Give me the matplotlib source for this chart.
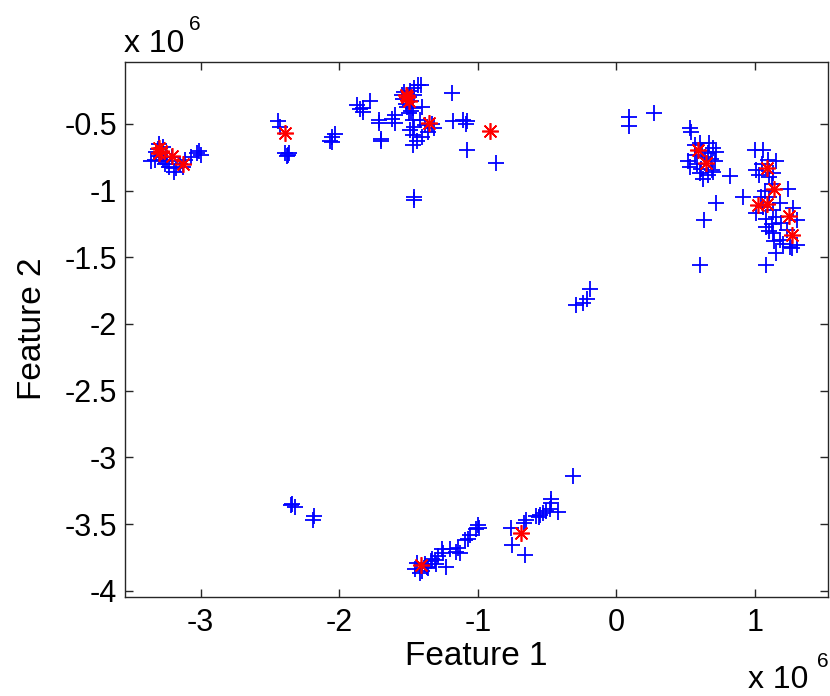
import matplotlib
matplotlib.use("Agg")
import matplotlib.pyplot as plt

# values in units of 1e6 (as the axes show them)
blue_x = [
    # left cluster
    -3.32, -3.27, -3.30, -3.33, -3.26, -3.23, -3.18, -3.19, -3.13, -3.11, -3.07, -3.03,
    -3.01, -3.00, -3.21, -3.25, -3.29, -3.31, -3.28, -3.36, -3.24, -3.15, -3.30, -3.27,
    # around -2.4 / -2
    -2.44, -2.43, -2.37, -2.39, -2.38, -2.36, -2.05, -2.03, -2.07, -2.05,
    -1.87, -1.83, -1.78, -1.83, -1.85,
    -1.71, -1.71, -1.70, -1.70, -1.60, -1.60, -1.62,
    # blob near -1.5
    -1.55, -1.53, -1.50, -1.48, -1.52, -1.47, -1.50, -1.46, -1.54, -1.49, -1.51, -1.48,
    -1.43, -1.41, -1.46, -1.40, -1.42, -1.38, -1.49, -1.47, -1.44, -1.47, -1.40, -1.36,
    -1.32, -1.47, -1.46, -1.33,
    -1.19, -1.18, -1.11, -1.08, -1.085, -1.08, -0.87, -1.46, -1.46,
    # top right
    0.09, 0.09, 0.27, 0.53, 0.54,
    0.60, 0.67, 0.70, 0.52, 0.53, 0.60, 0.66, 0.69, 0.71, 0.72, 0.565, 0.625,
    0.64, 0.62, 0.68, 0.58, 0.82, 0.72, 0.63, 0.60, 0.57, 0.66, 0.70, 0.61,
    1.00, 1.06, 1.095, 1.01, 1.155, 1.13, 1.24, 0.91, 1.01, 1.08, 1.13, 1.18,
    1.275, 1.30, 1.30, 1.25, 1.155, 1.18, 1.13, 1.08, 1.19, 1.23, 1.08, 1.05,
    1.10, 1.12, 1.07, 1.04, 1.10, 1.15, 1.20, 1.27, 1.06, 1.14, 1.10, 1.03, 1.12,
    # middle
    -0.29, -0.24, -0.21, -0.19,
    # bottom
    -2.35, -2.32, -2.34, -2.18, -2.19,
    -1.44, -1.42, -1.37, -1.34, -1.31, -1.29, -1.25, -1.23, -1.26, -1.20, -1.155, -1.13,
    -1.14, -1.095, -1.07, -1.06, -1.01, -0.99, -1.00, -1.45, -1.40, -1.38, -1.33, -1.36,
    -1.30,
    -0.76, -0.75, -0.66, -0.67, -0.65, -0.58, -0.55, -0.53, -0.48, -0.42, -0.47, -0.47,
    -0.31, -0.51, -0.56,
]
blue_y = [
    -0.71, -0.67, -0.65, -0.77, -0.80, -0.82, -0.83, -0.86, -0.82, -0.77, -0.75, -0.72,
    -0.70, -0.73, -0.75, -0.75, -0.75, -0.69, -0.72, -0.78, -0.78, -0.80, -0.74, -0.77,
    -0.48, -0.52, -0.73, -0.72, -0.74, -0.72, -0.60, -0.575, -0.63, -0.635,
    -0.36, -0.38, -0.33, -0.41, -0.39,
    -0.47, -0.495, -0.61, -0.63, -0.43, -0.495, -0.46,
    -0.28, -0.26, -0.30, -0.33, -0.35, -0.38, -0.42, -0.28, -0.31, -0.25, -0.37, -0.40,
    -0.21, -0.21, -0.23, -0.37, -0.47, -0.51, -0.545, -0.58, -0.63, -0.66, -0.595, -0.56,
    -0.53, -0.47, -0.52, -0.50,
    -0.27, -0.48, -0.47, -0.48, -0.50, -0.695, -0.795, -1.045, -1.07,
    -0.45, -0.515, -0.415, -0.53, -0.56,
    -0.645, -0.645, -0.68, -0.78, -0.82, -0.87, -0.88, -0.845, -0.78, -0.71, -0.73, -0.91,
    -0.75, -0.70, -0.76, -0.80, -0.89, -1.09, -1.22, -1.56, -0.66, -0.72, -0.86, -0.84,
    -0.695, -0.695, -0.77, -0.845, -0.78, -0.87, -0.99, -1.045, -1.17, -1.21, -1.145, -1.09,
    -1.13, -1.22, -1.41, -1.42, -1.47, -1.37, -1.32, -1.27, -1.245, -1.295, -1.56, -0.80,
    -0.90, -0.95, -1.00, -1.05, -1.05, -1.20, -1.40, -1.43, -1.12, -1.38, -1.30, -0.88, -1.25,
    -1.86, -1.84, -1.81, -1.74,
    -3.36, -3.37, -3.35, -3.44, -3.47,
    -3.79, -3.87, -3.82, -3.78, -3.77, -3.74, -3.72, -3.82, -3.69, -3.69, -3.71, -3.72,
    -3.68, -3.62, -3.61, -3.58, -3.54, -3.53, -3.51, -3.84, -3.85, -3.80, -3.76, -3.83,
    -3.80,
    -3.53, -3.66, -3.73, -3.49, -3.47, -3.44, -3.43, -3.42, -3.39, -3.41, -3.31, -3.34,
    -3.14, -3.40, -3.45,
]
red_x = [-3.30, -3.30, -3.21, -3.13, -3.29, -2.39, -1.52, -1.50, -1.51, -1.35, -0.915,
         0.59, 0.645, 1.09, 1.14, 1.02, 1.09, 1.245, 1.27, -1.41, -0.69]
red_y = [-0.68, -0.72, -0.74, -0.80, -0.70, -0.565, -0.28, -0.33, -0.30, -0.49, -0.55,
         -0.695, -0.79, -0.83, -0.985, -1.105, -1.10, -1.19, -1.33, -3.81, -3.57]

x_ticks = [-3, -2, -1, 0, 1]
y_ticks = [-4, -3.5, -3, -2.5, -2, -1.5, -1, -0.5]

plt.rcParams["font.family"] = ["Liberation Sans", "DejaVu Sans"]
plt.rcParams["axes.unicode_minus"] = False

fig = plt.figure(figsize=(8.3, 6.96), dpi=100)
ax = fig.add_axes([0.150, 0.1427, 0.8476, 0.7687])
ax.plot(blue_x, blue_y, "+", color="#0000ff", ms=11, mew=1.3, ls="none")
ax.plot(red_x, red_y, marker=(8, 2, 0), color="#ff0000", ms=12, mew=1.2, ls="none")

ax.set_xlim(-3.55, 1.527)
ax.set_ylim(-4.045, -0.033)
ax.set_xticks(x_ticks)
ax.set_xticklabels([f"{v:g}" for v in x_ticks])
ax.set_yticks(y_ticks)
ax.set_yticklabels([f"{v:g}" for v in y_ticks])
ax.tick_params(direction="in", length=6, width=1, labelsize=22, top=True, right=True,
               colors="#262626", labelcolor="black")
ax.tick_params(axis="x", pad=8.5)
ax.tick_params(axis="y", pad=5.5)
for s in ax.spines.values():
    s.set_linewidth(1.0)
    s.set_color("#262626")

ax.set_xlabel("Feature 1", fontsize=24, labelpad=1.5)
ax.set_ylabel("Feature 2", fontsize=24, labelpad=12)

fig.text(0.149, 0.925, "x 10", fontsize=23, ha="left", va="baseline")
fig.text(0.228, 0.957, "6", fontsize=15, ha="left", va="baseline")
fig.text(0.901, 0.0115, "x 10", fontsize=23, ha="left", va="baseline")
fig.text(0.984, 0.042, "6", fontsize=15, ha="left", va="baseline")

fig.savefig("out.png", dpi=100)
